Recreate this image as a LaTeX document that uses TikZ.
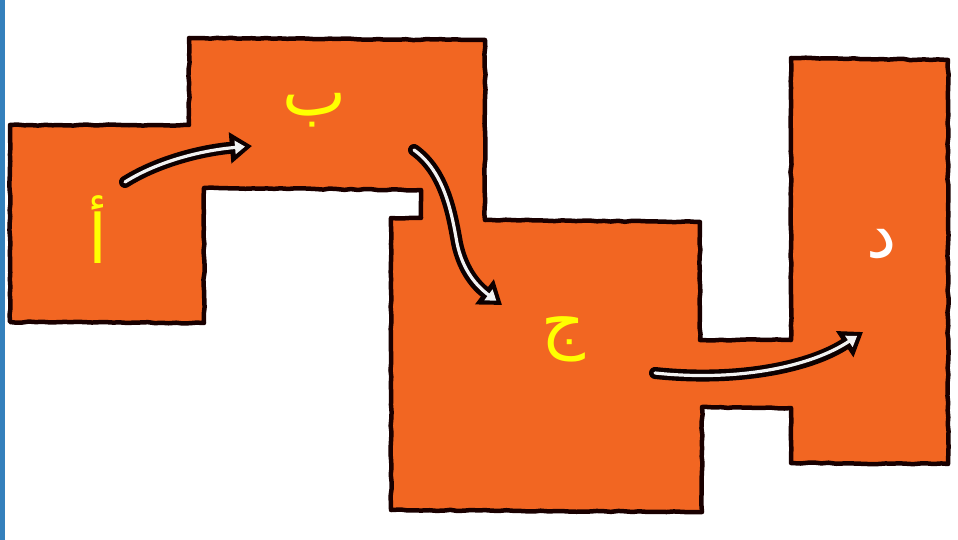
\documentclass[tikz,border=0pt]{standalone}
\usepackage{fontspec}
\newfontfamily\arabicfont[Script=Arabic]{DejaVu Sans}
\TeXXeTstate=1
\usetikzlibrary{arrows.meta,decorations.pathmorphing}
\definecolor{shapeorange}{RGB}{242,102,34}
\definecolor{edgeblue}{RGB}{52,128,188}
\definecolor{labelyellow}{RGB}{255,255,0}
\tikzset{
  outline/.style={draw=black!90!red, line width=4.5pt, fill=shapeorange, line join=round,
    decorate, decoration={random steps, segment length=7pt, amplitude=0.6pt}},
  arrowout/.style={line width=12pt, black!95!red, line cap=round, -{Triangle[length=22pt,width=30pt]}},
  arrowin/.style={line width=3.2pt, white!90!gray, line cap=round, shorten >=7pt, -{Triangle[length=10pt,width=13pt]}},
  lbl/.style={font=\arabicfont\fontsize{68}{78}\selectfont, inner sep=0pt},
}
\begin{document}
\begin{tikzpicture}[x=1pt,y=-1pt]
\useasboundingbox (0,0) rectangle (958,540);
\fill[white] (0,0) rectangle (958,540);
\fill[edgeblue] (0,0) rectangle (5,540);
% outline
\draw[outline] (10,125) -- (189,125) -- (189,38) -- (485,40) -- (485,220) -- (700,222)
  -- (700,340) -- (791,340) -- (791,58) -- (948,60) -- (948,464) -- (791,463)
  -- (791,408) -- (702,407) -- (702,512) -- (391,510) -- (391,218) -- (421,218)
  -- (421,190) -- (204,188) -- (204,323) -- (10,322) -- cycle;
% labels
\node[lbl, text=labelyellow] (la) at (98,230) {\beginR أ\endR};
\node[lbl, text=labelyellow] (lb) at (315,110) {\beginR ب\endR};
\node[lbl, text=labelyellow] (lc) at (563,339) {\beginR ج\endR};
\node[lbl, text=white] (ld) at (882,244) {\beginR د\endR};
% arrow coordinates
\coordinate (a1s) at (125,182);
\coordinate (a1e) at (252,146);
\coordinate (a2s) at (414,150);
\coordinate (a2m) at (457,243);
\coordinate (a2e) at (502,305);
\coordinate (a3s) at (655,373);
\coordinate (a3e) at (863,332);
% arrows
\foreach \st in {arrowout,arrowin}{
  \draw[\st] (a1s) .. controls (160,160) and (205,150) .. (a1e);
  \draw[\st] (a2s) .. controls (445,172) and (452,215) .. (a2m) .. controls (463,272) and (478,287) .. (a2e);
  \draw[\st] (a3s) .. controls (740,382) and (812,366) .. (a3e);
}
\end{tikzpicture}
\end{document}
